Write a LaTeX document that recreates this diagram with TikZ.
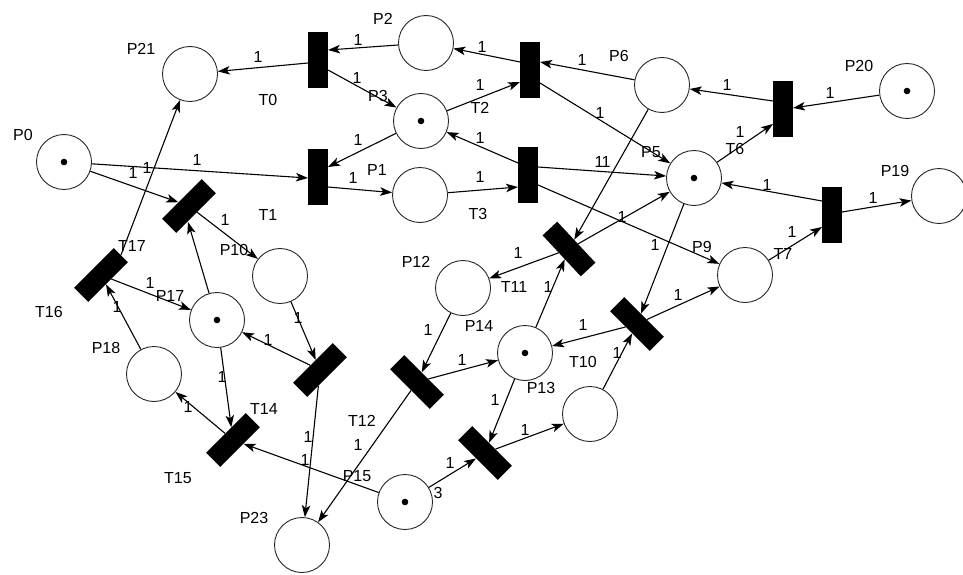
\documentclass[tikz,border=0pt]{standalone}
\usepackage{fontspec}
\setmainfont{Liberation Sans}
\usetikzlibrary{arrows.meta,calc}
\begin{document}
\begin{tikzpicture}[x=1pt,y=-1pt,
  place/.style={circle,draw=black!85,line width=0.9pt,minimum size=55pt,inner sep=0pt},
  bar/.style={rectangle,fill=black,minimum width=20pt,minimum height=56pt,inner sep=0pt},
  arc/.style={line width=1.1pt,-{Stealth[length=12pt,width=8.5pt,inset=3pt]}},
  lbl/.style={font=\fontsize{16}{19}\selectfont,inner sep=0pt},
]
\useasboundingbox (0,0) rectangle (963,575);
% places
\node[place] (P21) at (190,74) {};
\node[place] (P0) at (64,162) {};
\node[place] (P2) at (426,43) {};
\node[place] (P3) at (421,121) {};
\node[place] (P1) at (420,195) {};
\node[place] (P6) at (662,85) {};
\node[place] (P20) at (907,91) {};
\node[place] (P5) at (694,178) {};
\node[place] (P19) at (939,196) {};
\node[place] (P9) at (745,275) {};
\node[place] (P12) at (463,288) {};
\node[place] (P13) at (525,353) {};
\node[place] (P11) at (590,414) {};
\node[place] (P15) at (405,502) {};
\node[place] (P23) at (302,545) {};
\node[place] (P10) at (280,276) {};
\node[place] (P17) at (217,320) {};
\node[place] (P18) at (154,374) {};
\foreach \p in {P0,P3,P20,P5,P13,P15,P17} \fill (\p.center) circle (3.3pt);
% transitions
\node[bar] (T0) at (318,60) {};
\node[bar] (T4) at (318,177) {};
\node[bar] (T2) at (530,70) {};
\node[bar] (T3) at (528,175) {};
\node[bar] (T6) at (783,109) {};
\node[bar] (T7) at (832,215) {};
\node[bar,rotate=43] (T11) at (569,249) {};
\node[bar,rotate=45] (T10) at (637,324) {};
\node[bar,rotate=45] (T12) at (417,382) {};
\node[bar,rotate=45] (T13) at (485,453) {};
\node[bar,rotate=-45] (T1) at (189,206) {};
\node[bar,rotate=-45] (T16) at (101,275) {};
\node[bar,rotate=-45] (T9) at (320,370) {};
\node[bar,rotate=-45] (T14) at (233,440) {};
% arcs
\draw[arc] ($(T0)+(-10,3)$) -- (P21);
\draw[arc] (P2) -- ($(T0)+(10,-10)$);
\draw[arc] ($(T0)+(10,10)$) -- (P3);
\draw[arc] ($(T2)+(-10,-8)$) -- (P2);
\draw[arc] (P6) -- ($(T2)+(10,-8)$);
\draw[arc] (P3) -- ($(T2)+(-10,12)$);
\draw[arc] (P3) -- ($(T4)+(10,-10)$);
\draw[arc] (P0) -- ($(T4)+(-10,1)$);
\draw[arc] ($(T4)+(10,10)$) -- (P1);
\draw[arc] (P1) -- ($(T3)+(-10,12)$);
\draw[arc] ($(T3)+(-10,-12)$) -- (P3);
\draw[arc] ($(T3)+(10,-8)$) -- (P5);
\draw[arc] ($(T3)+(10,10)$) -- (P9);
\draw[arc] ($(T2)+(10,13)$) -- (P5);
\draw[arc] (P6) -- (T11);
\draw[arc] (T11) -- (P5);
\draw[arc] (T11) -- (P12);
\draw[arc] (P13) -- (T11);
\draw[arc] (P5) -- (T10);
\draw[arc] (T10) -- (P13);
\draw[arc] (T10) -- (P9);
\draw[arc] (P11) -- (T10);
\draw[arc] (P5) -- ($(T6)+(-10,15)$);
\draw[arc] ($(T6)+(-10,-8)$) -- (P6);
\draw[arc] (P20) -- ($(T6)+(10,-1)$);
\draw[arc] ($(T7)+(-10,-14)$) -- (P5);
\draw[arc] (P9) -- ($(T7)+(-10,12)$);
\draw[arc] ($(T7)+(10,-3)$) -- (P19);
\draw[arc] (P0) -- (T1);
\draw[arc] (T16.north) -- (P21);
\draw[arc] (T1) -- (P10);
\draw[arc] (P17) -- ($(T1)+(-1,16)$);
\draw[arc] (T16) -- (P17);
\draw[arc] (P18) -- (T16);
\draw[arc] (P10) -- (T9);
\draw[arc] (T9) -- (P17);
\draw[arc] (P17) -- (T14);
\draw[arc] (T14) -- (P18);
\draw[arc] (P15) -- (T14);
\draw[arc] (T9) -- (P23);
\draw[arc] (T12) -- (P23);
\draw[arc] (P12) -- (T12);
\draw[arc] (T12) -- (P13);
\draw[arc] (P13) -- (T13);
\draw[arc] (P15) -- (T13);
\draw[arc] (T13) -- (P11);
% place labels
\node[lbl] (lP21) at (141,49) {P21};
\node[lbl] (lP0) at (23,135) {P0};
\node[lbl] (lP2) at (383,19) {P2};
\node[lbl] (lP3) at (378,96) {P3};
\node[lbl] (lP1) at (377,170) {P1};
\node[lbl] (lP6) at (619,56) {P6};
\node[lbl] (lP20) at (859,66) {P20};
\node[lbl] (lP19) at (895,171) {P19};
\node[lbl] (lP5) at (651,152) {P5};
\node[lbl] (lP9) at (702,247) {P9};
\node[lbl] (lP12) at (416,262) {P12};
\node[lbl] (lP14) at (479,326) {P14};
\node[lbl] (lP13) at (541,388) {P13};
\node[lbl] (lP15) at (357,476) {P15};
\node[lbl] (lP23) at (254,518) {P23};
\node[lbl] (lP10) at (234,250) {P10};
\node[lbl] (lP17) at (170,296) {P17};
\node[lbl] (lP18) at (106,348) {P18};
% transition labels
\node[lbl] (lT0) at (268,100) {T0};
\node[lbl] (lT1) at (268,215) {T1};
\node[lbl] (lT2) at (480,108) {T2};
\node[lbl] (lT3) at (478,214) {T3};
\node[lbl] (lT6) at (735,149) {T6};
\node[lbl] (lT7) at (783,254) {T7};
\node[lbl] (lT11) at (514,287) {T11};
\node[lbl] (lT10) at (583,362) {T10};
\node[lbl] (lT12) at (362,421) {T12};
\node[lbl] (lT14) at (264,409) {T14};
\node[lbl] (lT15) at (178,478) {T15};
\node[lbl] (lT16) at (49,312) {T16};
\node[lbl] (lT17) at (132,246) {T17};
% weights
\foreach \x/\y [count=\i] in {258/57,358/40,357/78,482/47,582/60,480/85,358/140,480/138,353/178,480/177,600/113,599/162,606/162,622/217,518/253,548/287,197/160,133/173,147/168,225/220,150/283,117/307,298/318,268/340,222/377,188/407,308/437,305/460,358/445,428/330,462/360,495/400,450/463,525/430,583/325,617/353,678/295,655/245,740/132,727/85,830/93,767/185,792/232,873/198}
  \node[lbl] (w\i) at (\x,\y) {1};
\node[lbl] (w3b) at (438,493) {3};
\end{tikzpicture}
\end{document}
